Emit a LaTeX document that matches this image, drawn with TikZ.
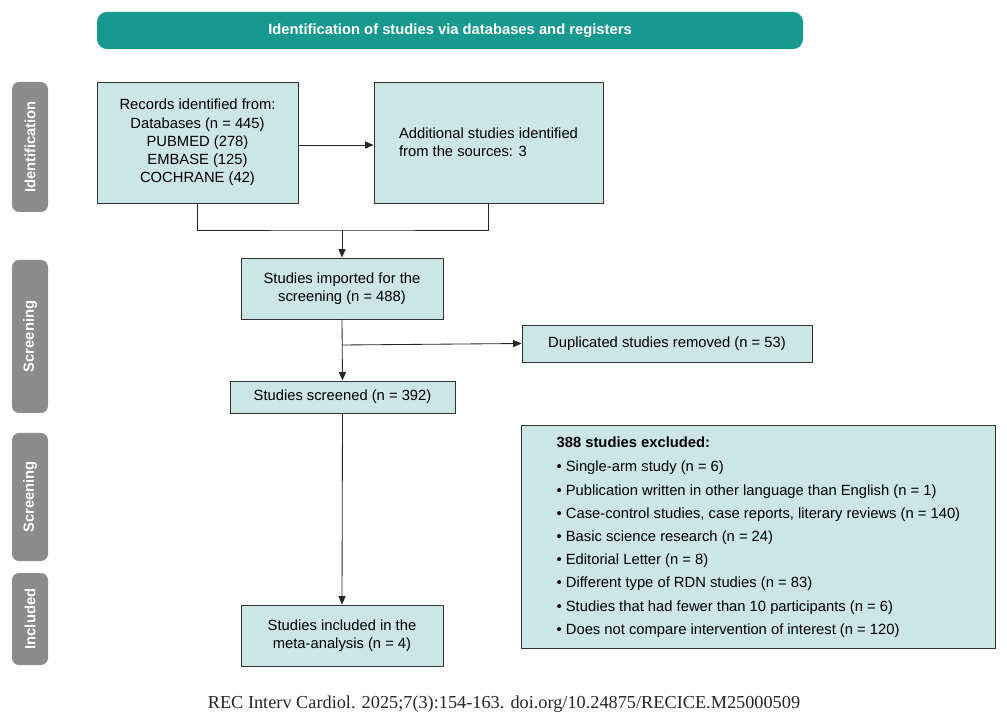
\documentclass[tikz,border=0pt]{standalone}
\usepackage{fontspec}
\setmainfont{Liberation Sans}
\usetikzlibrary{positioning, arrows.meta}
\definecolor{boxfill}{HTML}{CCE5E5}
\definecolor{headteal}{HTML}{17998F}
\definecolor{sidegray}{HTML}{8C8C8C}
\tikzset{
  box/.style={draw=black!80, fill=boxfill, line width=0.6pt, align=center, inner sep=2pt, font=\fontsize{10.5}{13}\selectfont},
  side/.style={fill=sidegray, rounded corners=5pt, text=white, font=\bfseries\fontsize{10.5}{12}\selectfont, rotate=90},
  flow/.style={-{Triangle[length=6pt,width=5pt]}, line width=0.6pt, black!85},
  link/.style={line width=0.6pt, black!85}
}
\begin{document}
\begin{tikzpicture}[x=0.025cm, y=-0.025cm]
  \useasboundingbox (0,0) rectangle (1007,727);
  % header
  \node[fill=headteal, rounded corners=7pt, text=white, font=\bfseries\fontsize{10.5}{12}\selectfont,
        minimum width=706*0.025cm, minimum height=37*0.025cm] (head) at (450,30.5)
        {Identification of studies via databases and registers};
  % phase bars
  \node[side, minimum width=130*0.025cm, minimum height=36*0.025cm] (ident) at (30,147) {Identification};
  \node[side, minimum width=153*0.025cm, minimum height=36*0.025cm] (scr1) at (30,336.5) {Screening};
  \node[side, minimum width=128*0.025cm, minimum height=36*0.025cm] (scr2) at (30,497) {Screening};
  \node[side, minimum width=92*0.025cm, minimum height=36*0.025cm] (incl) at (30,619) {Included};
  % boxes
  \node[box, minimum width=201*0.025cm, minimum height=121*0.025cm] (records) at (197.5,142.5)
    {Records identified from:\\Databases (n = 445)\\PUBMED (278)\\EMBASE (125)\\COCHRANE (42)};
  \node[box, minimum width=229*0.025cm, minimum height=121*0.025cm, align=left] (extra) at (488.5,142.5)
    {Additional studies identified\\from the sources: 3};
  \node[box, minimum width=202*0.025cm, minimum height=61*0.025cm] (imported) at (342,288.5)
    {Studies imported for the\\screening (n = 488)};
  \node[box, minimum width=290*0.025cm, minimum height=37*0.025cm] (dupl) at (667,343.5)
    {Duplicated studies removed (n = 53)};
  \node[box, minimum width=225*0.025cm, minimum height=32*0.025cm] (screened) at (342.5,397)
    {Studies screened (n = 392)};
  \node[box, minimum width=202*0.025cm, minimum height=61*0.025cm] (included) at (342,635.5)
    {Studies included in the\\meta-analysis (n = 4)};
  \node[box, minimum width=474*0.025cm, minimum height=212*0.025cm, align=left, anchor=north west,
        inner xsep=6pt, inner ysep=8pt, font=\fontsize{10.5}{16.5}\selectfont] (excluded) at (521,425)
    {\textbf{388 studies excluded:}\\[1pt]
     \textbullet\ Single-arm study (n = 6)\\
     \textbullet\ Publication written in other language than English (n = 1)\\
     \textbullet\ Case-control studies, case reports, literary reviews (n = 140)\\
     \textbullet\ Basic science research (n = 24)\\
     \textbullet\ Editorial Letter (n = 8)\\
     \textbullet\ Different type of RDN studies (n = 83)\\
     \textbullet\ Studies that had fewer than 10 participants (n = 6)\\
     \textbullet\ Does not compare intervention of interest (n = 120)};
  % connectors
  \coordinate (join) at (342,230);
  \coordinate (split) at (342,345);
  \draw[flow] (records.east |- 0,145) -- (extra.west |- 0,145);
  \draw[link] (records.south) |- (join) -| (extra.south);
  \draw[flow] (join) -- (imported.north);
  \draw[flow] (imported.south) -- (screened.north);
  \draw[flow] (split) -- (dupl.west);
  \draw[flow] (screened.south) -- (included.north);
  % source line
  \node[font=\itshape\fontsize{13}{15}\selectfont, text=black!85] (src) at (504,704) {\setmainfont{Liberation Serif}REC Interv Cardiol. 2025;7(3):154-163. doi.org/10.24875/RECICE.M25000509};
\end{tikzpicture}
\end{document}
